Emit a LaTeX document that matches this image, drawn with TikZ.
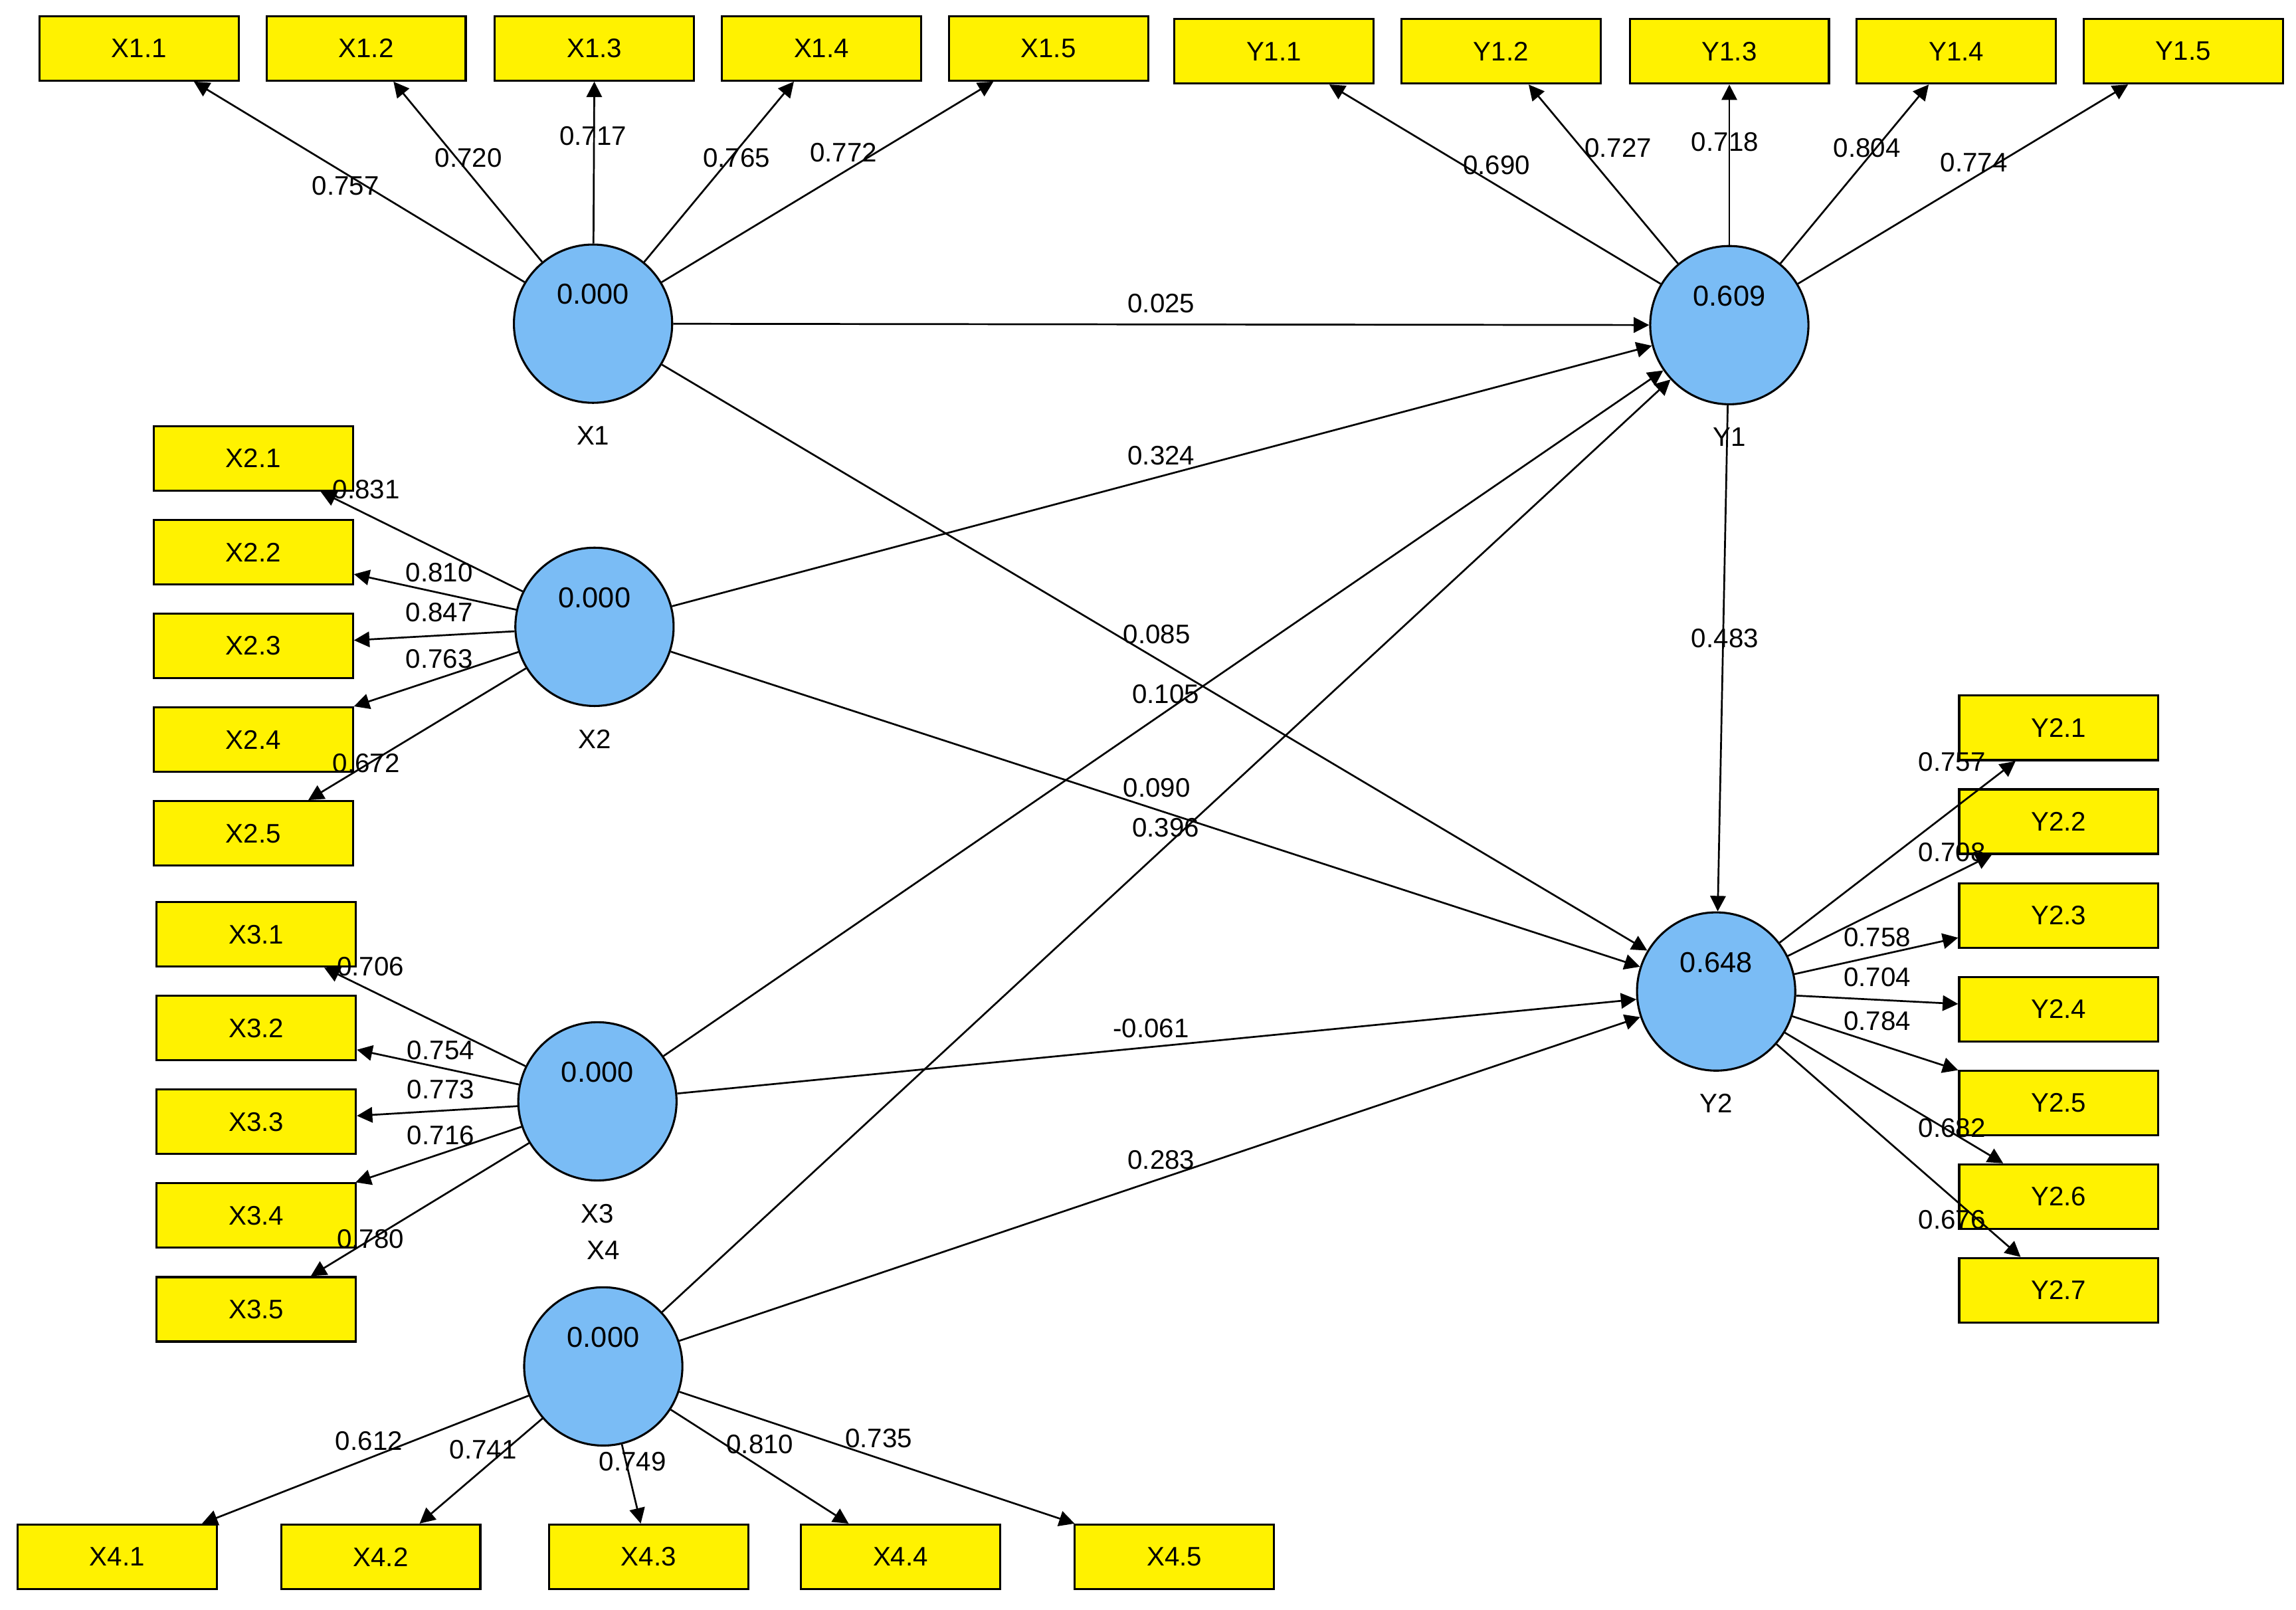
\documentclass[tikz,border=0pt]{standalone}
\usepackage{fontspec}
\setmainfont{Liberation Sans}
\usetikzlibrary{arrows.meta}
\definecolor{lvblue}{RGB}{122,188,245}
\tikzset{
  ind/.style={draw, fill=yellow, minimum width=1.36cm, minimum height=0.44cm, inner sep=0pt, font=\fontsize{5.2}{6}\selectfont},
  lv/.style={draw, circle, fill=lvblue, minimum size=1.08cm, inner sep=0pt},
  val/.style={font=\fontsize{5.6}{6}\selectfont},
  coef/.style={font=\fontsize{5.2}{6}\selectfont, inner sep=0pt},
  arr/.style={-{Triangle[length=3pt,width=3pt]}, line width=0.35pt}
}
\begin{document}
\begin{tikzpicture}[x=0.01cm, y=0.01cm]
\useasboundingbox (0,0) rectangle (1568,-1099);
% latent variables
\node[lv, label={[yshift=-0.03cm]below:{\fontsize{5.2}{6}\selectfont X1}}] (X1) at (405,-221) {};
\node[lv, label={[yshift=-0.03cm]below:{\fontsize{5.2}{6}\selectfont X2}}] (X2) at (406,-428) {};
\node[lv, label={[yshift=-0.03cm]below:{\fontsize{5.2}{6}\selectfont X3}}] (X3) at (408,-752) {};
\node[lv, label={[yshift=0.06cm]above:{\fontsize{5.2}{6}\selectfont X4}}] (X4) at (412,-933) {};
\node[lv, label={[yshift=-0.03cm]below:{\fontsize{5.2}{6}\selectfont Y1}}] (Y1) at (1181,-222) {};
\node[lv, label={[yshift=-0.03cm]below:{\fontsize{5.2}{6}\selectfont Y2}}] (Y2) at (1172,-677) {};
\foreach \n/\v in {X1/0.000, X2/0.000, X3/0.000, X4/0.000, Y1/0.609, Y2/0.648}
  \node[val] (v\n) at ([yshift=0.2cm]\n.center) {\v};
% indicators
\foreach \i/\x in {1/95,2/250,3/406,4/561,5/716}
  \node[ind] (X1\i) at (\x,-33) {X1.\i};
\foreach \i/\x in {1/870,2/1025,3/1181,4/1336,5/1491}
  \node[ind] (Y1\i) at (\x,-35) {Y1.\i};
\foreach \i/\y in {1/313,2/377,3/441,4/505,5/569}
  \node[ind] (X2\i) at (173,-\y) {X2.\i};
\foreach \i/\y in {1/638,2/702,3/766,4/830,5/894}
  \node[ind] (X3\i) at (175,-\y) {X3.\i};
\foreach \i/\x in {1/80,2/260,3/443,4/615,5/802}
  \node[ind] (X4\i) at (\x,-1063) {X4.\i};
\foreach \i/\y in {1/497,2/561,3/625,4/689,5/753,6/817,7/881}
  \node[ind] (Y2\i) at (1406,-\y) {Y2.\i};
% outer model
\foreach \n/\k in {X1/5, Y1/5, X2/5, X3/5, X4/5, Y2/7}
  \foreach \i in {1,...,\k}
    \draw[arr] (\n) -- (\n\i);
% inner model
\foreach \a/\b in {X1/Y1, X2/Y1, X3/Y1, X4/Y1, X1/Y2, X2/Y2, X3/Y2, X4/Y2, Y1/Y2}
  \draw[arr] (\a) -- (\b);
% coefficients
\foreach \t/\x/\y [count=\c] in {
  0.757/236/127, 0.720/320/108, 0.717/405/93, 0.765/503/108, 0.772/576/104,
  0.690/1022/113, 0.727/1105/101, 0.718/1178/97, 0.804/1275/101, 0.774/1348/111,
  0.831/250/334, 0.810/300/391, 0.847/300/418, 0.763/300/450, 0.672/250/521,
  0.706/253/660, 0.754/301/717, 0.773/301/744, 0.716/301/775, 0.780/253/846,
  0.612/252/984, 0.741/330/990, 0.749/432/998, 0.810/519/986, 0.735/600/982,
  0.757/1333/520, 0.708/1333/582, 0.758/1282/640, 0.704/1282/667, 0.784/1282/697,
  0.682/1333/770, 0.676/1333/833,
  0.025/793/207, 0.324/793/311, 0.085/790/433, 0.105/796/474, 0.090/790/538,
  0.396/796/565, -0.061/786/702, 0.283/793/792, 0.483/1178/436}
  \node[coef] (c\c) at (\x,-\y) {\t};
\end{tikzpicture}
\end{document}
